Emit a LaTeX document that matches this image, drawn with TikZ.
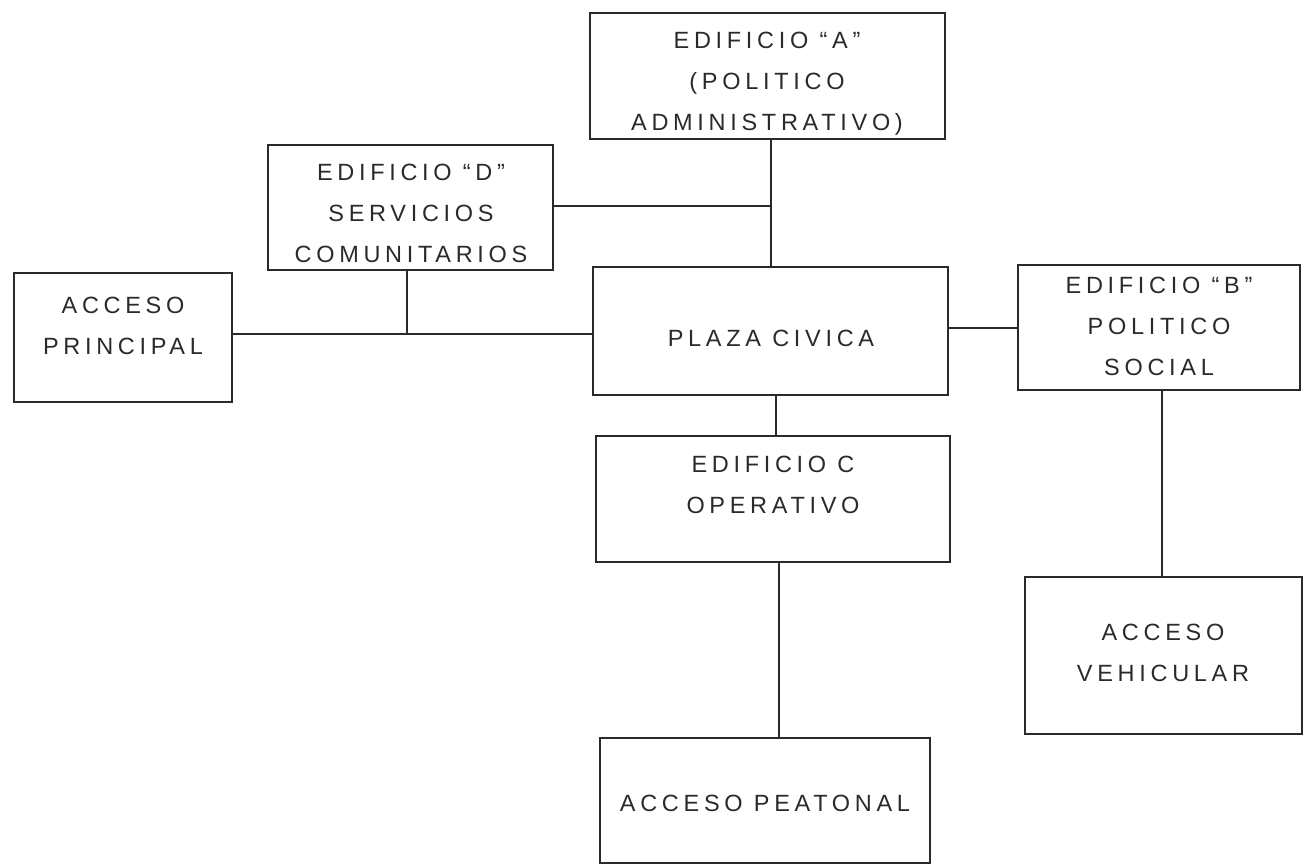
\documentclass[tikz,border=0pt]{standalone}
\usepackage{fontspec}
\setmainfont{Liberation Sans}[LetterSpace=20]
\usetikzlibrary{fit}
\begin{document}
\begin{tikzpicture}[x=1pt,y=-1pt,
  box/.style={draw=ink, line width=1.1pt, rectangle, inner sep=0pt},
  txt/.style={text=ink, align=center, inner sep=0pt, font=\fontsize{23.5}{41}\selectfont},
  link/.style={draw=ink, line width=1.1pt}]
\definecolor{ink}{HTML}{2A2A2A}
\useasboundingbox (0,0) rectangle (1304,866);
% boxes (corner to corner)
\node[box, fit={(590,13) (945,139)}] (A) {};
\node[box, fit={(268,145) (553,270)}] (D) {};
\node[box, fit={(14,273) (232,402)}] (AP) {};
\node[box, fit={(593,267) (948,395)}] (PC) {};
\node[box, fit={(1018,265) (1300,390)}] (B) {};
\node[box, fit={(596,436) (950,562)}] (C) {};
\node[box, fit={(1025,577) (1302,734)}] (V) {};
\node[box, fit={(600,738) (930,863)}] (P) {};
% texts
\node[txt] (tA) at (767,84) {EDIFICIO ``A''\\(POLITICO\\ADMINISTRATIVO)};
\node[txt] (tD) at (411,213) {EDIFICIO ``D''\\SERVICIOS\\COMUNITARIOS};
\node[txt] (tAP) at (123,326) {ACCESO\\PRINCIPAL};
\node[txt] (tPC) at (771,338) {PLAZA CIVICA};
\node[txt] (tB) at (1159,326) {EDIFICIO ``B''\\POLITICO\\SOCIAL};
\node[txt] (tC) at (773,485) {EDIFICIO C\\OPERATIVO};
\node[txt] (tV) at (1163,653) {ACCESO\\VEHICULAR};
\node[txt] (tP) at (765,803) {ACCESO PEATONAL};
% junctions
\coordinate (jA) at (771,206);
\coordinate (jD) at (407,334);
\coordinate (jB) at (985,328);
\coordinate (jC) at (776,415);
\coordinate (jP) at (779,650);
\coordinate (jV) at (1162,480);
% connectors
\draw[link] (A.south -| jA) -- (PC.north -| jA);
\draw[link] (D.east |- jA) -- (jA);
\draw[link] (D.south -| jD) -- (jD);
\draw[link] (AP.east |- jD) -- (PC.west |- jD);
\draw[link] (PC.east |- jB) -- (B.west |- jB);
\draw[link] (PC.south -| jC) -- (C.north -| jC);
\draw[link] (C.south -| jP) -- (P.north -| jP);
\draw[link] (B.south -| jV) -- (V.north -| jV);
\end{tikzpicture}
\end{document}
